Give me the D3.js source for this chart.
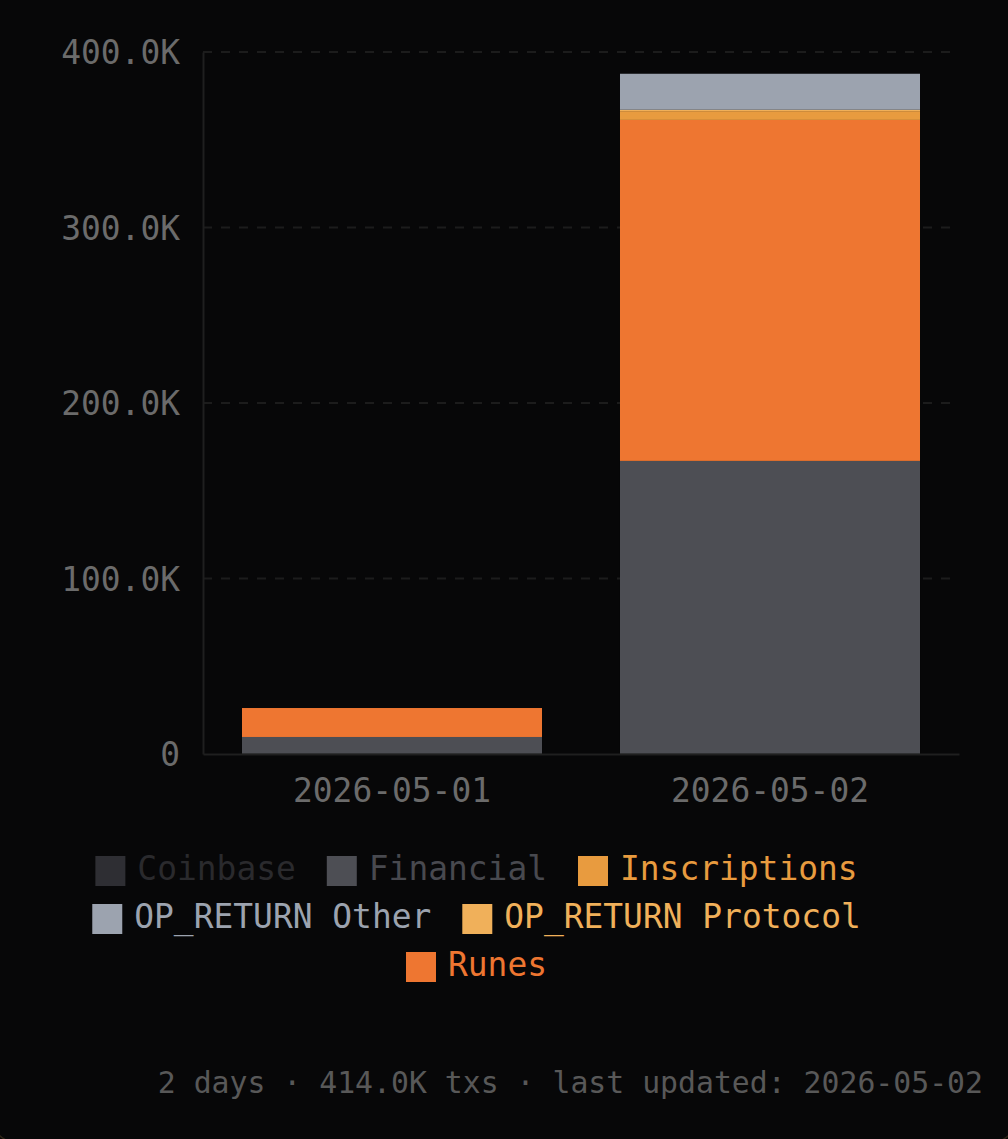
<!DOCTYPE html>
<html>
<head>
<meta charset="utf-8">
<script src="https://cdn.jsdelivr.net/npm/d3@7"></script>
<style>
  html, body { margin: 0; padding: 0; background: #050505; overflow: hidden; }
  svg { display: block; font-family: "DejaVu Sans Mono", monospace; }
</style>
</head>
<body>
<svg id="chart" width="1008" height="1139"></svg>
<script>
const dates = ["2026-05-01", "2026-05-02"];
const seriesNames = ["Coinbase", "Financial", "Inscriptions", "OP_RETURN Other", "OP_RETURN Protocol", "Runes"];
const coinbase = [100, 100];
const financial = [9600, 166900];
const runes = [16500, 194300];
const inscriptions = [0, 5000];
const opReturnProtocol = [0, 800];
const opReturnOther = [0, 20500];
const yTicks = [0, 100000, 200000, 300000, 400000];
const legendRows = [
  ["Coinbase", "Financial", "Inscriptions"],
  ["OP_RETURN Other", "OP_RETURN Protocol"],
  ["Runes"]
];

// stacking order bottom to top, not the legend order
const stackOrder = ["Coinbase", "Financial", "Runes", "Inscriptions", "OP_RETURN Protocol", "OP_RETURN Other"];
const valuesByName = {
  "Coinbase": coinbase,
  "Financial": financial,
  "Inscriptions": inscriptions,
  "OP_RETURN Other": opReturnOther,
  "OP_RETURN Protocol": opReturnProtocol,
  "Runes": runes
};
const color = d3.scaleOrdinal()
  .domain(seriesNames)
  .range(["#2e2e33", "#4d4e54", "#e89b3f", "#9ca3af", "#f0b05a", "#ee7631"]);
const textColor = d3.scaleOrdinal()
  .domain(seriesNames)
  .range(["#2a2a2d", "#48494f", "#e89b3f", "#9ca3af", "#f0b05a", "#ee7631"]);

const svg = d3.select("#chart");

// card behind the chart, only its bottom corners show
svg.append("rect")
  .attr("x", -12)
  .attr("y", -40)
  .attr("width", 1032)
  .attr("height", 1184)
  .attr("rx", 34)
  .attr("fill", "#070708")
  .attr("stroke", "#2e2517")
  .attr("stroke-width", 1.5);

const x = d3.scaleBand().domain(dates).range([203, 959]).paddingInner(0.2063).paddingOuter(0.10315);
const y = d3.scaleLinear().domain([0, 400000]).range([754, 52]);

const rows = dates.map((date, i) => {
  const row = { date };
  stackOrder.forEach(name => { row[name] = valuesByName[name][i]; });
  return row;
});
const stacked = d3.stack().keys(stackOrder)(rows);

// grid lines
svg.append("g")
  .selectAll("line")
  .data(yTicks.slice(1))
  .enter().append("line")
  .attr("x1", 203)
  .attr("x2", 952)
  .attr("y1", d => y(d))
  .attr("y2", d => y(d))
  .attr("stroke", "#1c1c1c")
  .attr("stroke-width", 2)
  .attr("stroke-dasharray", "9 9");

// bars
svg.append("g")
  .selectAll("g")
  .data(stacked)
  .enter().append("g")
  .attr("fill", d => color(d.key))
  .selectAll("rect")
  .data(d => d)
  .enter().append("rect")
  .attr("x", d => x(d.data.date))
  .attr("width", x.bandwidth())
  .attr("y", d => y(d[1]))
  .attr("height", d => y(d[0]) - y(d[1]));

// axes
const yAxis = svg.append("g")
  .attr("transform", "translate(203,0)")
  .call(d3.axisLeft(y)
    .tickValues(yTicks)
    .tickSize(0)
    .tickPadding(23)
    .tickFormat(d => d === 0 ? "0" : (d / 1000).toFixed(1) + "K"));

const xAxis = svg.append("g")
  .attr("transform", "translate(0,754)")
  .call(d3.axisBottom(x).tickSize(0).tickPadding(25));

[yAxis, xAxis].forEach(axis => {
  axis.attr("font-family", null).attr("font-size", null);
  axis.selectAll("text")
    .attr("fill", "#6b6b6b")
    .style("font-size", "32.9px");
  axis.select(".domain")
    .attr("stroke", "#1f1f1f")
    .attr("stroke-width", 2);
});
yAxis.selectAll("text").attr("dy", "0.36em");

// legend, each row centred
const legend = svg.append("g");
legendRows.forEach((names, rowIndex) => {
  const rowY = 856 + rowIndex * 48;
  const items = legend.selectAll(null)
    .data(names)
    .enter().append("g");
  items.append("rect")
    .attr("width", 30)
    .attr("height", 30)
    .attr("fill", d => color(d));
  items.append("text")
    .attr("x", 42)
    .attr("y", 24)
    .attr("fill", d => textColor(d))
    .style("font-size", "32.9px")
    .text(d => d);
  const widths = items.nodes().map(n => 42 + d3.select(n).select("text").node().getComputedTextLength());
  let left = 476.5 - (d3.sum(widths) + 31 * (names.length - 1)) / 2;
  items.attr("transform", (d, i) => {
    const pos = left;
    left += widths[i] + 31;
    return `translate(${pos},${rowY})`;
  });
});

// footer
svg.append("text")
  .attr("x", 983)
  .attr("y", 1093)
  .attr("text-anchor", "end")
  .attr("fill", "#585858")
  .style("font-size", "29.8px")
  .text(`${dates.length} days · 414.0K txs · last updated: ${dates[1]}`);
</script>
</body>
</html>
